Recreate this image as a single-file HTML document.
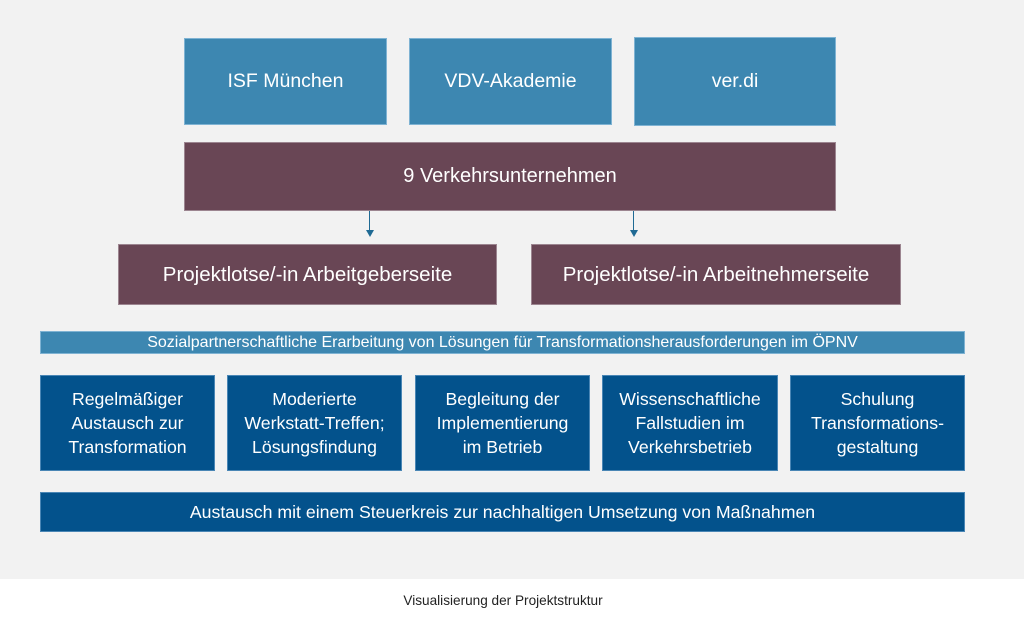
<!DOCTYPE html>
<html><head><meta charset="utf-8"><style>
*{margin:0;padding:0;box-sizing:border-box}
body{width:1024px;height:618px;background:#fff;position:relative;overflow:hidden;font-family:"Liberation Sans","DejaVu Sans",sans-serif}
.bg{position:absolute;left:0;top:0;width:1024px;height:579px;background:#f2f2f2}
.b{position:absolute;display:flex;align-items:center;justify-content:center;text-align:center;color:#fff;white-space:nowrap}
.lb{background:#3d87b1;border:1px solid #7fb3d3;font-size:19.5px}
.m{background:#694655;border:1px solid #9c8590;font-size:20.5px}
.d{background:#03528c;border:1px solid #4a86b5;font-size:17.7px;line-height:24px}
.cap{position:absolute;top:593px;left:0;width:1006px;text-align:center;font-size:13.6px;color:#222}
.ln{position:absolute;width:1px;background:#1f6a94}
.ah{position:absolute;width:0;height:0;border-left:4px solid transparent;border-right:4px solid transparent;border-top:7px solid #1f6a94}
</style></head><body>
<div class="bg"></div>
<div class="b lb" style="left:184px;top:38px;width:203px;height:87px">ISF München</div>
<div class="b lb" style="left:409px;top:38px;width:203px;height:87px">VDV-Akademie</div>
<div class="b lb" style="left:634px;top:37px;width:202px;height:89px">ver.di</div>
<div class="b m" style="left:184px;top:142px;width:652px;height:69px;font-size:20px">9 Verkehrsunternehmen</div>
<div class="ln" style="left:369px;top:211px;height:20px"></div>
<div class="ah" style="left:366px;top:230px"></div>
<div class="ln" style="left:633px;top:211px;height:20px"></div>
<div class="ah" style="left:630px;top:230px"></div>
<div class="b m" style="left:118px;top:244px;width:379px;height:61px">Projektlotse/-in Arbeitgeberseite</div>
<div class="b m" style="left:531px;top:244px;width:370px;height:61px">Projektlotse/-in Arbeitnehmerseite</div>
<div class="b lb" style="left:40px;top:331px;width:925px;height:23px;font-size:16px">Sozialpartnerschaftliche Erarbeitung von Lösungen für Transformationsherausforderungen im ÖPNV</div>
<div class="b d" style="left:40px;top:375px;width:175px;height:96px">Regelmäßiger<br>Austausch zur<br>Transformation</div>
<div class="b d" style="left:227px;top:375px;width:175px;height:96px">Moderierte<br>Werkstatt-Treffen;<br>Lösungsfindung</div>
<div class="b d" style="left:415px;top:375px;width:175px;height:96px">Begleitung der<br>Implementierung<br>im Betrieb</div>
<div class="b d" style="left:602px;top:375px;width:176px;height:96px">Wissenschaftliche<br>Fallstudien im<br>Verkehrsbetrieb</div>
<div class="b d" style="left:790px;top:375px;width:175px;height:96px">Schulung<br>Transformations-<br>gestaltung</div>
<div class="b d" style="left:40px;top:492px;width:925px;height:40px">Austausch mit einem Steuerkreis zur nachhaltigen Umsetzung von Maßnahmen</div>
<div class="cap">Visualisierung der Projektstruktur</div>
</body></html>
